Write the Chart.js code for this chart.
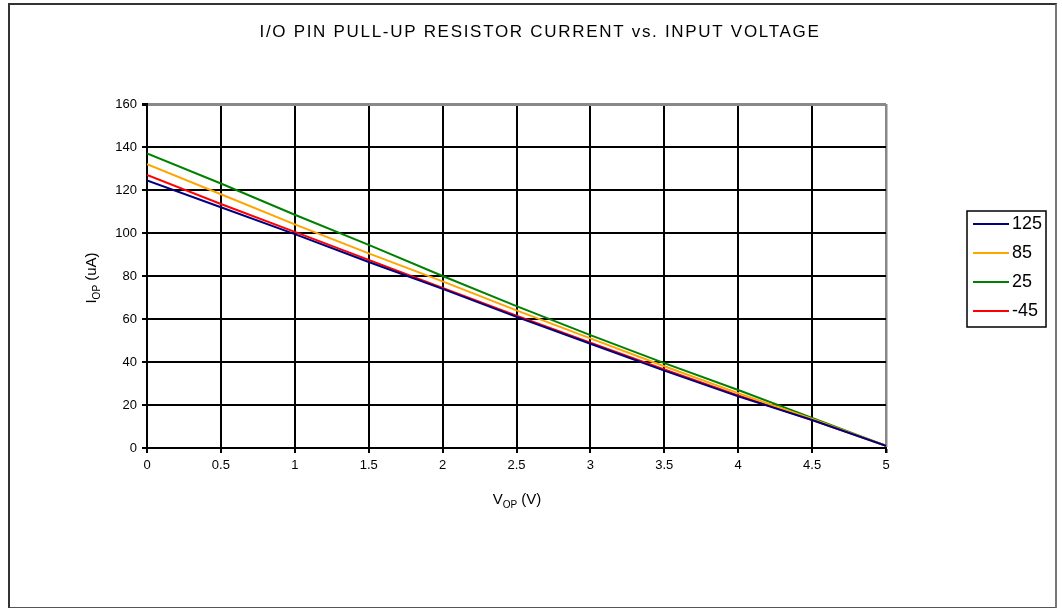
<!DOCTYPE html>
<html>
<head>
<meta charset="utf-8">
<script src="https://cdn.jsdelivr.net/npm/chart.js@4"></script>
<style>
  body { margin: 0; background: #fff; }
  #wrap { position: relative; width: 1062px; height: 608px; }
  #frame { position: absolute; left: 8px; top: 3px; width: 1045px; height: 602px; border: 2px solid #333; border-bottom-color: #555; border-right-color: #777; pointer-events: none; }
  canvas { position: absolute; left: 0; top: 0; }
</style>
</head>
<body>
<div id="wrap">
  <canvas id="chart" width="1062" height="608"></canvas>
  <div id="frame"></div>
</div>
<script>
// --- Données ---
const voltages = [0, 0.5, 1, 1.5, 2, 2.5, 3, 3.5, 4, 4.5, 5];
const temp125 = [124.5, 112, 99.5, 86.5, 74, 61, 48.5, 36, 24, 13, 1];
const temp85 = [132, 118, 104, 90.5, 77.5, 64, 51, 38, 25.5, 13.5, 1];
const temp25 = [137, 123, 108.5, 94.5, 80, 66, 52.5, 39.5, 27, 14, 1];
const tempM45 = [127, 113.5, 100.5, 87.5, 74.5, 61.5, 49, 36.5, 24.5, 13, 1];
const seriesNames = ["125", "85", "25", "-45"];
const yTicks = [0, 20, 40, 60, 80, 100, 120, 140, 160];
const xTicks = [0, 0.5, 1, 1.5, 2, 2.5, 3, 3.5, 4, 4.5, 5];

const FONT = "'Liberation Sans', Arial, sans-serif";

function toPoints(ys) {
  return voltages.map((v, i) => ({ x: v, y: ys[i] }));
}

const colors = ["#000080", "#FFA500", "#008000", "#FF0000"];
const allSeries = [temp125, temp85, temp25, tempM45];

// --- Titre, titres d'axes (avec indices) et légende encadrée ---
const decorPlugin = {
  id: "decor",
  afterDraw(chart) {
    const ctx = chart.ctx;
    ctx.save();
    ctx.fillStyle = "#000";
    ctx.textBaseline = "middle";

    // titre
    ctx.font = `17px ${FONT}`;
    ctx.letterSpacing = "1.7px";
    ctx.textAlign = "center";
    ctx.fillText("I/O PIN PULL-UP RESISTOR CURRENT vs. INPUT VOLTAGE", 540, 32);
    ctx.letterSpacing = "0px";

    // titres d'axes : lettre + indice + unité
    const drawSub = (main, sub, rest, x, y) => {
      ctx.font = `15px ${FONT}`;
      const w1 = ctx.measureText(main).width;
      ctx.font = `10px ${FONT}`;
      const w2 = ctx.measureText(sub).width;
      ctx.font = `15px ${FONT}`;
      const w3 = ctx.measureText(rest).width;
      let start = x - (w1 + w2 + w3) / 2;
      ctx.textAlign = "left";
      ctx.fillText(main, start, y);
      ctx.font = `10px ${FONT}`;
      ctx.fillText(sub, start + w1, y + 5);
      ctx.font = `15px ${FONT}`;
      ctx.fillText(rest, start + w1 + w2, y);
    };
    drawSub("V", "OP", " (V)", 517, 500);

    ctx.save();
    ctx.translate(92, 278);
    ctx.rotate(-Math.PI / 2);
    drawSub("I", "OP", " (uA)", 0, 0);
    ctx.restore();

    // légende
    const bx = 967, by = 211, bw = 79, bh = 116;
    ctx.strokeStyle = "#000";
    ctx.lineWidth = 1.5;
    ctx.strokeRect(bx, by, bw, bh);
    ctx.font = `18px ${FONT}`;
    ctx.textAlign = "left";
    chart.data.datasets.forEach((ds, i) => {
      const y = by + 13 + i * 29;
      ctx.strokeStyle = ds.borderColor;
      ctx.lineWidth = 2;
      ctx.beginPath();
      ctx.moveTo(bx + 6, y);
      ctx.lineTo(bx + 42, y);
      ctx.stroke();
      ctx.fillStyle = "#000";
      ctx.fillText(ds.label, bx + 45, y);
    });
    ctx.restore();
  },
};

new Chart(document.getElementById("chart"), {
  type: "line",
  data: {
    datasets: allSeries.map((ys, i) => ({
      label: seriesNames[i],
      data: toPoints(ys),
      borderColor: colors[i],
      backgroundColor: colors[i],
      borderWidth: 2,
      pointRadius: 0,
      tension: 0,
      fill: false,
    })),
  },
  options: {
    responsive: false,
    animation: false,
    layout: { padding: { left: 107, right: 176, top: 104, bottom: 130 } },
    plugins: { legend: { display: false }, title: { display: false }, tooltip: { enabled: false } },
    scales: {
      x: {
        type: "linear",
        min: 0,
        max: 5,
        afterBuildTicks: (s) => { s.ticks = xTicks.map((v) => ({ value: v })); },
        afterFit: (s) => { s.height = 30; },
        ticks: { color: "#000", font: { family: FONT, size: 13 }, padding: 5, maxRotation: 0, callback: (v) => String(v) },
        grid: {
          color: (c) => (c.tick && c.tick.value === 5 ? "#888" : "#000"),
          lineWidth: (c) => (c.tick && c.tick.value === 5 ? 2.5 : 2),
          tickLength: 5,
          tickColor: "#000",
        },
        border: { color: "#000", width: 2 },
      },
      y: {
        min: 0,
        max: 160,
        afterBuildTicks: (s) => { s.ticks = yTicks.map((v) => ({ value: v })); },
        afterFit: (s) => { s.width = 40; },
        ticks: { color: "#000", font: { family: FONT, size: 13 }, padding: 5 },
        grid: {
          color: (c) => (c.tick && c.tick.value === 160 ? "#888" : "#000"),
          lineWidth: (c) => (c.tick && c.tick.value === 160 ? 3 : 2),
          tickLength: 5,
          tickColor: "#000",
        },
        border: { color: "#000", width: 2 },
      },
    },
  },
  plugins: [decorPlugin],
});
</script>
</body>
</html>
